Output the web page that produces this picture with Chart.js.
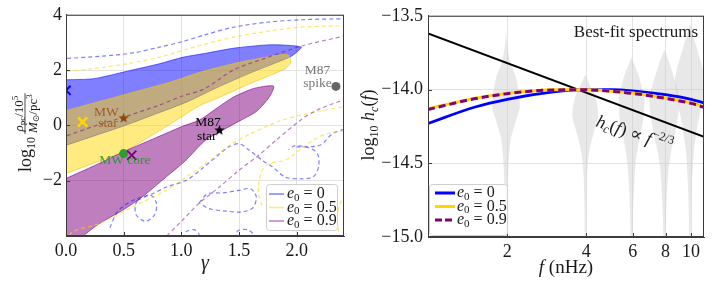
<!DOCTYPE html>
<html>
<head>
<meta charset="utf-8">
<title>Contours and best-fit spectra</title>
<script src="https://cdn.jsdelivr.net/npm/chart.js@4.4.1/dist/chart.umd.min.js"></script>
<style>
  body { margin: 0; background: #fff; }
  .panel { position: absolute; top: 0; }
  #leftChart { left: 0; }
  #rightChart { left: 360px; }
</style>
</head>
<body>
<canvas id="leftChart" class="panel" width="360" height="286"></canvas>
<canvas id="rightChart" class="panel" width="353" height="286"></canvas>
<script>
/* global Chart */
const SERIF = '"Liberation Serif", "DejaVu Serif", serif';
const INK = '#1a1a1a';
const GRID = '#e3e3e3';
const FRAME = '#3c3c3c';

// ---------- left panel: gamma vs log10 rho_pc ----------
const gammaTicks = [0, 0.5, 1.0, 1.5, 2.0];
const rhoTicks = [-2, 0, 2, 4];
const eccLabels = ['0', '0.5', '0.9'];

// inner (filled) contours, closed outlines [gamma, log rho]
const innerE0 = [[-0.05, 1.64], [0.0, 1.65], [0.24, 1.69], [0.53, 1.96], [0.81, 2.23], [1.02, 2.47], [1.2, 2.6], [1.45, 2.79], [1.74, 2.91], [1.91, 2.9], [2.04, 2.83], [2.0, 2.65], [1.94, 2.47], [1.6, 1.9], [1.3, 1.35], [1.05, 0.85], [0.8, 0.45], [0.5, -0.02], [0.25, -0.37], [0.0, -0.72], [-0.05, -0.78], [-0.05, 1.64]];
const innerE05 = [[-0.05, 0.5], [0.0, 0.54], [0.25, 0.82], [0.53, 1.14], [0.9, 1.56], [1.16, 1.92], [1.45, 2.23], [1.74, 2.47], [1.92, 2.56], [1.95, 2.3], [1.9, 2.05], [1.59, 1.5], [1.3, 0.96], [1.16, 0.72], [1.0, 0.3], [0.75, -0.35], [0.5, -0.95], [0.25, -1.35], [0.0, -1.74], [-0.05, -1.8], [-0.05, 0.5]];
const innerE09 = [[-0.05, -2.05], [0.0, -1.92], [0.25, -1.45], [0.5, -0.95], [0.75, -0.5], [1.0, -0.05], [1.16, 0.2], [1.3, 0.6], [1.45, 1.02], [1.6, 1.3], [1.7, 1.4], [1.8, 1.42], [1.78, 1.15], [1.74, 0.9], [1.65, 0.5], [1.5, 0.15], [1.21, -0.54], [1.04, -1.26], [0.87, -1.86], [0.66, -2.59], [0.49, -3.07], [0.29, -3.55], [0.15, -4.0], [0.12, -4.2], [-0.05, -4.2], [-0.05, -2.05]];

// outer (dashed) contours
const outerE0Top = [[-0.05, 2.41], [0, 2.42], [0.3, 2.5], [0.58, 2.62], [0.81, 2.83], [1.0, 3.02], [1.2, 3.27], [1.45, 3.55], [1.74, 3.73], [2.03, 3.82], [2.42, 3.86]];
const outerE0A = [[0.38, -3.7], [0.45, -3.1], [0.58, -2.71], [0.75, -2.47], [0.87, -2.23], [1.04, -1.99], [1.18, -1.56], [1.3, -1.14], [1.41, -0.78], [1.5, -0.66], [1.59, -0.9], [1.7, -1.26], [1.79, -1.5], [1.9, -1.87], [2.02, -1.93], [2.14, -1.87], [2.19, -1.5], [2.18, -1.02], [2.1, -0.8], [1.98, -0.74], [1.93, -0.88]];
const outerE0B = [[2.0, -0.78], [2.2, -0.72], [2.31, -0.3], [2.42, -0.12]];
const outerE0C = [[0.62, -2.71], [0.736, -2.53], [0.785, -2.83], [0.765, -3.25], [0.69, -3.47], [0.61, -3.25], [0.6, -2.89], [0.62, -2.71]];
const outerE0D = [[1.154, -2.8], [1.227, -2.47], [1.356, -2.44], [1.5, -2.35], [1.6, -2.29], [1.65, -2.59], [1.62, -2.98], [1.53, -3.13], [1.385, -3.1], [1.24, -3.01], [1.154, -2.8]];
const outerE0E = [[1.02, -4.1], [1.04, -3.85], [1.11, -3.77], [1.15, -3.91], [1.16, -4.1]];
const outerE0F = [[1.46, -4.1], [1.49, -3.81], [1.57, -3.77], [1.62, -3.91], [1.63, -4.1]];
const outerE05Top = [[-0.05, 1.93], [0, 1.95], [0.23, 2.05], [0.53, 2.23], [0.81, 2.47], [1.16, 2.89], [1.45, 3.19], [1.74, 3.4], [2.03, 3.55], [2.42, 3.61]];
const outerE05Low = [[0.0, -4.2], [0.058, -3.85], [0.29, -3.55], [0.577, -2.95], [0.866, -2.35], [1.04, -1.87], [1.21, -1.38], [1.36, -0.9], [1.44, -0.66], [1.6, -0.3], [1.75, -0.02], [1.85, 0.16], [2.03, 0.36], [2.2, 0.52], [2.42, 0.68]];
const outerE05R = [[1.7, -2.9], [1.67, -2.5], [1.67, -2.1], [1.7, -1.63], [1.76, -1.38], [1.9, -1.26], [2.02, -0.9], [2.14, -0.54], [2.26, -0.3], [2.42, -0.2]];
const outerE05Edge = [[2.42, -2.5], [2.37, -2.9], [2.35, -3.5], [2.38, -4.1]];
const outerE09Top = [[-0.05, -0.42], [0, -0.38], [0.25, -0.02], [0.5, 0.3], [0.8, 0.72], [1.0, 1.05], [1.2, 1.32], [1.45, 2.0], [1.74, 2.45], [2.05, 2.88], [2.42, 3.24]];
const outerE09Low = [[0.84, -4.2], [0.866, -4.03], [1.01, -3.43], [1.15, -2.83], [1.33, -2.23], [1.5, -1.62], [1.67, -1.08], [1.82, -0.54], [2.03, 0.18], [2.17, 0.54], [2.42, 0.95]];

// reference systems and best-fit points
const mwStar = [[0.5, 0.28]];
const mwCore = [[0.5, -1.02]];
const m87Star = [[1.33, -0.16]];
const m87Spike = [[2.34, 1.41]];
const bestE0 = [[0.0, 1.27]];
const bestE05 = [[0.144, 0.12]];
const bestE09 = [[0.57, -1.08]];

// ---------- right panel: characteristic strain ----------
const freqTicks = [2, 4, 6, 8, 10];
const hcTicks = [-15, -14.5, -14, -13.5];
const curveFreq = [1, 1.5, 2, 3, 4, 5, 6, 8, 10, 11.2];
const hcE0 = [-14.23, -14.12, -14.066, -14.016, -14.001, -14.001, -14.009, -14.035, -14.066, -14.09];
const hcE05 = [-14.13, -14.06, -14.026, -14.002, -14.002, -14.011, -14.024, -14.057, -14.09, -14.115];
const hcE09 = [-14.135, -14.063, -14.028, -14.003, -14.002, -14.012, -14.026, -14.06, -14.094, -14.12];
const powerLawFreq = [1, 11.2];
const powerLawHc = [-13.62, -14.32];
const violinFreq = [1.98, 3.96, 5.94, 7.92, 9.9];
// per violin: [log10 hc, relative density]
const violinLevels = [
  [[-13.6, 0], [-13.7, 0.07], [-13.81, 0.27], [-13.92, 0.67], [-14.03, 0.87], [-14.12, 0.93], [-14.21, 0.67], [-14.33, 0.33], [-14.48, 0.18], [-14.7, 0.09], [-14.93, 0.04], [-15.05, 0.03]],
  [[-13.9, 0], [-13.96, 0.27], [-14.03, 0.6], [-14.1, 0.8], [-14.18, 0.87], [-14.26, 0.67], [-14.36, 0.4], [-14.47, 0.2], [-14.6, 0.1], [-14.8, 0.05], [-15.05, 0.03]],
  [[-13.78, 0], [-13.85, 0.27], [-13.92, 0.53], [-14.0, 0.73], [-14.06, 0.87], [-14.19, 0.8], [-14.3, 0.6], [-14.37, 0.47], [-14.5, 0.27], [-14.6, 0.2], [-14.82, 0.1], [-15.05, 0.05]],
  [[-13.73, 0], [-13.8, 0.27], [-13.88, 0.53], [-13.97, 0.8], [-14.06, 1.0], [-14.14, 0.97], [-14.21, 0.87], [-14.32, 0.67], [-14.41, 0.47], [-14.52, 0.3], [-14.64, 0.2], [-14.86, 0.1], [-15.05, 0.05]],
  [[-13.55, 0], [-13.6, 0.13], [-13.65, 0.27], [-13.72, 0.47], [-13.79, 0.67], [-13.86, 0.87], [-13.92, 1.0], [-14.0, 0.97], [-14.06, 0.87], [-14.15, 0.7], [-14.23, 0.53], [-14.32, 0.4], [-14.41, 0.27], [-14.52, 0.2], [-14.64, 0.13], [-14.86, 0.07], [-15.05, 0.04]]
];

// ---------- helpers ----------
const pts = arr => arr.map(p => ({x: p[0], y: p[1]}));
const zipPts = (xs, ys) => xs.map((x, i) => ({x: x, y: ys[i]}));
const minus = s => String(s).replace('-', '\u2212');

function runsWidth(ctx, runs) {
  let w = 0;
  for (const r of runs) {
    ctx.font = (r[3] ? 'italic ' : '') + r[1] + 'px ' + SERIF;
    w += ctx.measureText(r[0]).width;
  }
  return w;
}
function drawRuns(ctx, runs, x, y) {
  let cx = x;
  for (const r of runs) {
    ctx.font = (r[3] ? 'italic ' : '') + r[1] + 'px ' + SERIF;
    ctx.fillText(r[0], cx, y + (r[2] || 0));
    cx += ctx.measureText(r[0]).width;
  }
  return cx - x;
}
function eccRuns(v, size) {
  return [['e', size, 0, true], ['0', Math.round(size * 0.68), 4, false], [' = ' + v, size, 0, false]];
}
function frameAndTicks(chart, xt, yt) {
  const {ctx, chartArea: a, scales: {x, y}} = chart;
  ctx.save();
  ctx.strokeStyle = FRAME;
  ctx.lineWidth = 1;
  ctx.strokeRect(a.left + 0.5, a.top + 0.5, a.right - a.left - 1, a.bottom - a.top - 1);
  ctx.beginPath();
  for (const v of xt) {
    const px = Math.round(x.getPixelForValue(v)) + 0.5;
    if (px <= a.left + 1 || px >= a.right - 1) continue;
    ctx.moveTo(px, a.bottom); ctx.lineTo(px, a.bottom - 4);
  }
  for (const v of yt) {
    const py = Math.round(y.getPixelForValue(v)) + 0.5;
    if (py <= a.top + 1 || py >= a.bottom - 1) continue;
    ctx.moveTo(a.left, py); ctx.lineTo(a.left + 4, py);
  }
  ctx.stroke();
  ctx.restore();
}
function legendBox(ctx, bx, by, bw, bh) {
  ctx.beginPath();
  ctx.roundRect(bx + 0.5, by + 0.5, bw, bh, 3);
  ctx.fillStyle = 'rgba(255,255,255,0.85)';
  ctx.fill();
  ctx.strokeStyle = '#cfcfcf';
  ctx.lineWidth = 1;
  ctx.stroke();
}
function starImage(color, r) {
  const c = document.createElement('canvas');
  const s = Math.ceil(r * 2 + 2);
  c.width = s; c.height = s;
  const g = c.getContext('2d');
  g.fillStyle = color;
  g.beginPath();
  for (let i = 0; i < 10; i++) {
    const ang = -Math.PI / 2 + i * Math.PI / 5;
    const rr = i % 2 ? r * 0.42 : r;
    g.lineTo(s / 2 + rr * Math.cos(ang), s / 2 + rr * Math.sin(ang) + 0.5);
  }
  g.closePath();
  g.fill();
  return c;
}

// ---------- left chart ----------
const BLUE_A = 'rgba(0,0,255,0.5)';
const GOLD_A = 'rgba(255,215,0,0.5)';
const PURP_A = 'rgba(128,0,128,0.5)';
const leftHandles = [BLUE_A, 'rgba(255,215,0,0.55)', PURP_A];

function regionSet(data, fillC, lineC) {
  return {data: pts(data), showLine: true, fill: 'shape', backgroundColor: fillC, borderColor: lineC,
    borderWidth: 1, pointRadius: 0, tension: 0.25, capBezierPoints: false};
}
function dashSet(data, c) {
  return {data: pts(data), showLine: true, fill: false, borderColor: c, borderWidth: 1.2,
    borderDash: [4, 3], pointRadius: 0, tension: 0.3, capBezierPoints: false};
}
function markSet(data, style, color, r, bw) {
  return {data: pts(data), showLine: false, pointStyle: style, pointRadius: r, backgroundColor: color,
    borderColor: color, borderWidth: bw};
}

const leftSets = [
  regionSet(innerE0, BLUE_A, 'rgba(0,0,255,0.55)'),
  regionSet(innerE05, GOLD_A, 'rgba(240,200,0,0.6)'),
  regionSet(innerE09, PURP_A, 'rgba(128,0,128,0.6)'),
  dashSet(outerE0Top, 'rgba(0,0,255,0.5)'),
  dashSet(outerE0A, 'rgba(0,0,255,0.5)'),
  dashSet(outerE0B, 'rgba(0,0,255,0.5)'),
  dashSet(outerE0C, 'rgba(0,0,255,0.5)'),
  dashSet(outerE0D, 'rgba(0,0,255,0.5)'),
  dashSet(outerE0E, 'rgba(0,0,255,0.5)'),
  dashSet(outerE0F, 'rgba(0,0,255,0.5)'),
  dashSet(outerE05Top, 'rgba(255,215,0,0.6)'),
  dashSet(outerE05Low, 'rgba(255,215,0,0.6)'),
  dashSet(outerE05R, 'rgba(255,215,0,0.6)'),
  dashSet(outerE05Edge, 'rgba(255,215,0,0.6)'),
  dashSet(outerE09Top, 'rgba(128,0,128,0.5)'),
  dashSet(outerE09Low, 'rgba(128,0,128,0.5)'),
  markSet(mwStar, starImage('#8b4513', 5.5), '#8b4513', 5, 1),
  markSet(mwCore, 'circle', '#2ca02c', 4.5, 0),
  markSet(m87Star, starImage('#000000', 5.5), '#000', 5, 1),
  markSet(m87Spike, 'circle', '#666666', 4.5, 0),
  markSet(bestE0, 'crossRot', '#0000ff', 6.5, 2),
  markSet(bestE05, 'crossRot', '#ffd700', 6.5, 2.5),
  markSet(bestE09, 'crossRot', '#800080', 6.5, 2)
];
leftSets.forEach((d, i) => { d.order = leftSets.length - i; });

const leftNotes = [
  {text: 'MW', at: [0.35, 0.48], color: 'rgba(139,69,19,0.75)'},
  {text: 'star', at: [0.365, 0.06], color: 'rgba(139,69,19,0.75)'},
  {text: 'MW core', at: [0.51, -1.27], color: 'rgba(34,150,34,0.9)'},
  {text: 'M87', at: [1.23, 0.12], color: '#000'},
  {text: 'star', at: [1.22, -0.4], color: '#000'},
  {text: 'M87', at: [2.18, 1.99], color: '#777'},
  {text: 'spike', at: [2.18, 1.5], color: '#777'}
];

const leftDecor = {
  id: 'leftDecor',
  afterDatasetsDraw(chart) {
    const {ctx, chartArea: a, scales: {x, y}} = chart;
    ctx.save();
    ctx.textAlign = 'center';
    ctx.textBaseline = 'middle';
    ctx.font = '13.5px ' + SERIF;
    for (const n of leftNotes) {
      ctx.fillStyle = n.color;
      ctx.fillText(n.text, x.getPixelForValue(n.at[0]), y.getPixelForValue(n.at[1]));
    }
    ctx.restore();
    frameAndTicks(chart, gammaTicks, rhoTicks);

    // legend
    ctx.save();
    const bx = a.right - 78, by = a.bottom - 52;
    legendBox(ctx, bx, by, 71, 46);
    ctx.textBaseline = 'middle';
    ctx.textAlign = 'left';
    eccLabels.forEach((v, i) => {
      const ry = by + 10 + i * 13.5;
      ctx.strokeStyle = leftHandles[i];
      ctx.lineWidth = 1.5;
      ctx.beginPath(); ctx.moveTo(bx + 3, ry); ctx.lineTo(bx + 18, ry); ctx.stroke();
      ctx.fillStyle = INK;
      drawRuns(ctx, eccRuns(v, 16), bx + 21, ry);
    });
    ctx.restore();

    // axis titles
    ctx.save();
    ctx.fillStyle = INK;
    ctx.textBaseline = 'alphabetic';
    ctx.textAlign = 'center';
    ctx.font = 'italic 20px ' + SERIF;
    ctx.fillText('\u03b3', (a.left + a.right) / 2, 269);
    ctx.textAlign = 'left';
    ctx.translate(26, 172);
    ctx.rotate(-Math.PI / 2);
    const wLog = drawRuns(ctx, [['log', 18, 0, false], ['10', 12, 4, false]], 0, 5);
    const num = [['\u03c1', 13, 0, true], ['pc', 9, 2, false], ['/10', 13, 0, false], ['5', 9, -5, false]];
    const den = [['M', 13, 0, true], ['\u2299', 9, 2, false], ['/pc', 13, 0, false], ['3', 9, -5, false]];
    const wn = runsWidth(ctx, num), wd = runsWidth(ctx, den);
    const fw = Math.max(wn, wd) + 2, fx = wLog + 3;
    drawRuns(ctx, num, fx + (fw - wn) / 2, -3);
    drawRuns(ctx, den, fx + (fw - wd) / 2, 11);
    ctx.fillRect(fx, -1.4, fw, 0.8);
    ctx.restore();
  }
};

const tickFont = {family: SERIF, size: 18};

new Chart(document.getElementById('leftChart').getContext('2d'), {
  type: 'scatter',
  data: {datasets: leftSets},
  options: {
    responsive: false,
    animation: false,
    events: [],
    layout: {padding: {top: 14, right: 16, left: 0, bottom: 0}},
    plugins: {legend: {display: false}, tooltip: {enabled: false}},
    scales: {
      x: {
        type: 'linear', min: 0, max: 2.41,
        afterBuildTicks: s => { s.ticks = gammaTicks.map(v => ({value: v})); },
        afterFit: s => { s.height = 50; },
        grid: {color: GRID, drawTicks: false},
        border: {color: FRAME},
        ticks: {padding: 4, font: tickFont, color: INK, maxRotation: 0, autoSkip: false,
          callback: v => v.toFixed(1)}
      },
      y: {
        type: 'linear', min: -4, max: 4,
        afterBuildTicks: s => { s.ticks = rhoTicks.map(v => ({value: v})); },
        afterFit: s => { s.width = 66; },
        grid: {color: GRID, drawTicks: false},
        border: {color: FRAME},
        ticks: {padding: 4, font: tickFont, color: INK, autoSkip: false, callback: v => minus(v)}
      }
    }
  },
  plugins: [leftDecor]
});

// ---------- right chart ----------
const VIOLIN_HALF = 15 / 265; // widest half-width, in decades of frequency

function violinSet(center, levels) {
  const right = levels.map(l => ({x: center * Math.pow(10, l[1] * VIOLIN_HALF), y: l[0]}));
  const left = levels.slice().reverse().map(l => ({x: center * Math.pow(10, -l[1] * VIOLIN_HALF), y: l[0]}));
  const outline = right.concat(left);
  outline.push(outline[0]);
  return {data: outline, showLine: true, fill: 'shape', backgroundColor: 'rgba(205,205,205,0.45)',
    borderColor: 'rgba(0,0,0,0)', borderWidth: 0, pointRadius: 0, tension: 0.2, capBezierPoints: false};
}

const rightSets = violinFreq.map((c, i) => violinSet(c, violinLevels[i])).concat([
  {data: zipPts(powerLawFreq, powerLawHc), showLine: true, borderColor: '#000', borderWidth: 2, pointRadius: 0},
  {data: zipPts(curveFreq, hcE0), showLine: true, borderColor: '#0000ff', borderWidth: 2.8, pointRadius: 0, cubicInterpolationMode: 'monotone'},
  {data: zipPts(curveFreq, hcE05), showLine: true, borderColor: '#ffd700', borderWidth: 3, pointRadius: 0, cubicInterpolationMode: 'monotone'},
  {data: zipPts(curveFreq, hcE09), showLine: true, borderColor: '#800080', borderWidth: 3, borderDash: [7, 4], pointRadius: 0, cubicInterpolationMode: 'monotone'}
]);
rightSets.forEach((d, i) => { d.order = rightSets.length - i; });
const rightHandles = [{c: '#0000ff', dash: []}, {c: '#ffd700', dash: []}, {c: '#800080', dash: [7, 3]}];

const rightDecor = {
  id: 'rightDecor',
  afterDatasetsDraw(chart) {
    const {ctx, chartArea: a} = chart;
    frameAndTicks(chart, freqTicks, hcTicks);
    ctx.save();
    ctx.fillStyle = INK;
    ctx.textBaseline = 'alphabetic';
    ctx.textAlign = 'right';
    ctx.font = '17px ' + SERIF;
    ctx.fillText('Best-fit spectrums', a.right - 6, 37);

    // power-law note along the black line
    ctx.save();
    ctx.textAlign = 'left';
    ctx.translate(235, 126);
    ctx.rotate(19 * Math.PI / 180);
    drawRuns(ctx, [['h', 18, 0, true], ['c', 12, 3, true], ['(', 18, 0, false], ['f', 18, 0, true], [')', 18, 0, false],
      [' \u221d ', 18, 0, false], ['f', 18, 0, true], ['\u22122/3', 12, -8, false]], 0, 0);
    ctx.restore();

    // legend
    const bx = a.left + 1, by = a.bottom - 53;
    legendBox(ctx, bx, by, 78, 51);
    ctx.textAlign = 'left';
    ctx.textBaseline = 'middle';
    eccLabels.forEach((v, i) => {
      const ry = by + 9 + i * 13.5;
      ctx.strokeStyle = rightHandles[i].c;
      ctx.setLineDash(rightHandles[i].dash);
      ctx.lineWidth = 3;
      ctx.beginPath(); ctx.moveTo(bx + 6, ry); ctx.lineTo(bx + 26, ry); ctx.stroke();
      ctx.setLineDash([]);
      ctx.fillStyle = INK;
      drawRuns(ctx, eccRuns(v, 16), bx + 28, ry);
    });

    // axis titles
    ctx.textBaseline = 'alphabetic';
    const xr = [['f', 19, 0, true], [' (nHz)', 19, 0, false]];
    drawRuns(ctx, xr, (a.left + a.right) / 2 - runsWidth(ctx, xr) / 2, 273);
    ctx.translate(14, 125);
    ctx.rotate(-Math.PI / 2);
    const yr = [['log', 18, 0, false], ['10', 12, 4, false], [' ', 18, 0, false], ['h', 18, 0, true], ['c', 12, 4, true],
      ['(', 18, 0, false], ['f', 18, 0, true], [')', 18, 0, false]];
    drawRuns(ctx, yr, -runsWidth(ctx, yr) / 2, 0);
    ctx.restore();
  }
};

new Chart(document.getElementById('rightChart').getContext('2d'), {
  type: 'scatter',
  data: {datasets: rightSets},
  options: {
    responsive: false,
    animation: false,
    events: [],
    layout: {padding: {top: 14, right: 9, left: 0, bottom: 0}},
    plugins: {legend: {display: false}, tooltip: {enabled: false}},
    scales: {
      x: {
        type: 'logarithmic', min: 1, max: 11.2,
        afterBuildTicks: s => { s.ticks = freqTicks.map(v => ({value: v})); },
        afterFit: s => { s.height = 49; },
        grid: {color: GRID, drawTicks: false},
        border: {color: FRAME},
        ticks: {padding: 4, font: tickFont, color: INK, maxRotation: 0, autoSkip: false, callback: v => String(v)}
      },
      y: {
        type: 'linear', min: -15, max: -13.5,
        afterBuildTicks: s => { s.ticks = hcTicks.map(v => ({value: v})); },
        afterFit: s => { s.width = 68; },
        grid: {color: GRID, drawTicks: false},
        border: {color: FRAME},
        ticks: {padding: 5, font: tickFont, color: INK, autoSkip: false, callback: v => minus(v.toFixed(1))}
      }
    }
  },
  plugins: [rightDecor]
});
</script>
</body>
</html>
